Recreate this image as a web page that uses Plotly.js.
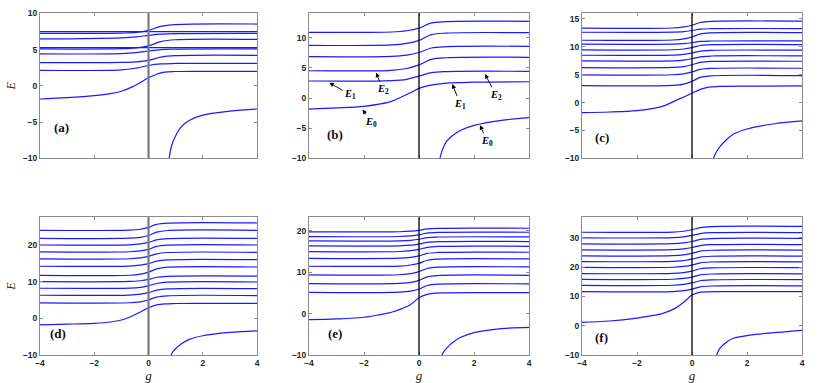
<!DOCTYPE html>
<html>
<head>
<meta charset="utf-8">
<script src="https://cdn.plot.ly/plotly-3.0.1.min.js"></script>
<style>
  html, body { margin: 0; padding: 0; background: #fff; }
  #chart { width: 830px; height: 383px; }
</style>
</head>
<body>
<div id="chart"></div>
<script>
// sample positions in g
const gWide = [-4, -1, -0.45, 0, 0.45, 1, 4];
const gNarrow = [-4, -0.7, -0.3, 0, 0.3, 0.7, 4];
const gLow = [-4, -3, -2, -1.4, -1, -0.6, -0.3, 0, 0.3, 0.6, 1, 2, 4];

// (a)
const levelsA = [
    [2.14, 2.2, 2.45, 2.8, 3.02, 3.08, 3.1],
    [3.19, 3.22, 3.3, 3.5, 3.95, 4.15, 4.2],
    [4.39, 4.44, 4.57, 4.8, 5.0, 5.06, 5.08],
    [5.08, 5.12, 5.24, 5.5, 6.1, 6.35, 6.4],
    [6.46, 6.62, 6.75, 6.95, 7.12, 7.2, 7.24],
    [7.24, 7.27, 7.36, 7.65, 8.2, 8.45, 8.52]
];
const flatA = [5.26, 7.46];
const lowA = [-1.82, -1.64, -1.36, -1.08, -0.75, -0.15, 0.45, 1.1, 1.6, 1.88, 1.97, 2.0, 2.0];
const gBoundA = [0.76, 0.85, 1.0, 1.2, 1.5, 2.0, 3.0, 4.0];
const boundA = [-10, -8.3, -6.9, -5.7, -4.8, -4.05, -3.5, -3.2];

// (b)
const levelsB = [
    [2.82, 2.88, 3.1, 3.64, 4.2, 4.38, 4.42],
    [4.52, 4.6, 4.9, 5.5, 6.4, 6.68, 6.75],
    [6.85, 6.9, 7.1, 7.55, 8.3, 8.52, 8.57],
    [8.74, 8.8, 9.05, 9.55, 10.5, 10.77, 10.83],
    [10.9, 10.95, 11.15, 11.6, 12.45, 12.67, 12.72]
];
const lowB = [-1.83, -1.65, -1.38, -0.98, -0.55, 0.25, 0.9, 1.6, 2.0, 2.25, 2.48, 2.62, 2.7];
const gBoundB = [0.76, 0.85, 1.0, 1.2, 1.5, 2.0, 3.0, 4.0];
const boundB = [-10, -8.6, -7.2, -6.3, -5.4, -4.55, -3.7, -3.25];

// (c)
const levelsC = [
    [3.03, 3.08, 3.3, 3.8, 4.5, 4.78, 4.82],
    [4.95, 4.98, 5.15, 5.5, 5.95, 6.12, 6.15],
    [6.26, 6.29, 6.45, 6.78, 7.2, 7.37, 7.4],
    [7.46, 7.48, 7.6, 7.85, 8.2, 8.34, 8.36],
    [8.48, 8.5, 8.62, 8.88, 9.22, 9.36, 9.38],
    [9.44, 9.46, 9.6, 9.85, 10.22, 10.37, 10.39],
    [10.46, 10.48, 10.56, 10.72, 10.95, 11.03, 11.05],
    [11.17, 11.21, 11.4, 11.75, 12.3, 12.5, 12.54],
    [12.6, 12.62, 12.7, 12.9, 13.15, 13.24, 13.26],
    [13.33, 13.36, 13.55, 13.85, 14.35, 14.55, 14.58]
];
const lowC = [-1.82, -1.7, -1.45, -1.05, -0.55, 0.35, 1.0, 1.66, 2.35, 2.75, 2.88, 2.95, 2.97];
const gBoundC = [0.78, 0.87, 1.0, 1.2, 1.5, 2.0, 3.0, 4.0];
const boundC = [-10, -9.0, -8.0, -6.9, -5.7, -4.75, -3.8, -3.3];

// (d)
const levelsD = [
    [4.2, 4.25, 4.5, 5.0, 5.8, 6.15, 6.2],
    [6.3, 6.35, 6.6, 7.0, 7.7, 8.05, 8.1],
    [8.2, 8.25, 8.45, 8.9, 9.5, 9.85, 9.9],
    [10.0, 10.05, 10.25, 10.6, 11.2, 11.45, 11.5],
    [11.7, 11.75, 12.05, 12.6, 13.5, 13.95, 14.0],
    [14.2, 14.25, 14.5, 14.9, 15.6, 15.95, 16.0],
    [16.2, 16.25, 16.5, 16.9, 17.6, 17.95, 18.0],
    [18.1, 18.15, 18.4, 18.8, 19.6, 19.95, 20.0],
    [20.0, 20.05, 20.3, 20.7, 21.4, 21.75, 21.8],
    [21.8, 21.85, 22.1, 22.6, 23.5, 23.95, 24.0],
    [24.0, 24.05, 24.3, 24.8, 25.6, 25.95, 26.0]
];
const lowD = [-1.8, -1.6, -1.35, -1.0, -0.45, 0.65, 1.7, 2.9, 3.65, 3.95, 4.05, 4.1, 4.1];
const gBoundD = [0.83, 0.92, 1.04, 1.2, 1.5, 2.0, 3.0, 4.0];
const boundD = [-10, -8.9, -8.0, -7.0, -5.75, -4.75, -3.85, -3.4];

// (e)
const levelsE = [
    [5.1, 5.15, 5.4, 5.9, 6.75, 7.08, 7.13],
    [7.2, 7.25, 7.5, 8.0, 8.85, 9.17, 9.22],
    [9.3, 9.35, 9.6, 10.1, 10.85, 11.18, 11.23],
    [11.4, 11.45, 11.7, 12.1, 12.85, 13.12, 13.16],
    [13.3, 13.34, 13.55, 13.9, 14.5, 14.73, 14.77],
    [14.93, 14.96, 15.15, 15.45, 15.95, 16.17, 16.2],
    [16.3, 16.33, 16.48, 16.75, 17.15, 17.32, 17.35],
    [17.5, 17.52, 17.65, 17.9, 18.3, 18.45, 18.47],
    [18.55, 18.57, 18.72, 18.98, 19.4, 19.57, 19.6],
    [19.7, 19.72, 19.85, 20.05, 20.4, 20.54, 20.56]
];
const lowE = [-1.48, -1.3, -0.9, -0.25, 0.3, 1.25, 2.2, 3.8, 4.6, 4.92, 5.0, 5.03, 5.04];
const gBoundE = [0.83, 0.92, 1.0, 1.2, 1.5, 2.0, 3.0, 4.0];
const boundE = [-10, -9.0, -8.4, -7.1, -5.8, -4.6, -3.65, -3.33];

// (f)
const levelsF = [
    [11.6, 11.65, 11.95, 12.5, 13.25, 13.55, 13.6],
    [13.75, 13.8, 14.1, 14.6, 15.35, 15.65, 15.7],
    [15.8, 15.85, 16.15, 16.6, 17.35, 17.65, 17.7],
    [17.8, 17.85, 18.15, 18.65, 19.45, 19.75, 19.8],
    [19.9, 19.95, 20.25, 20.7, 21.45, 21.75, 21.8],
    [21.9, 21.95, 22.25, 22.7, 23.4, 23.7, 23.75],
    [23.86, 23.9, 24.2, 24.7, 25.45, 25.75, 25.8],
    [25.9, 25.95, 26.25, 26.7, 27.35, 27.65, 27.7],
    [27.95, 28.0, 28.3, 28.75, 29.45, 29.75, 29.8],
    [30.0, 30.05, 30.35, 30.8, 31.45, 31.75, 31.8],
    [31.9, 31.95, 32.25, 32.75, 33.5, 33.85, 33.9]
];
const lowF = [1.14, 1.6, 2.6, 3.5, 4.4, 6.0, 8.0, 10.45, 11.45, 11.58, 11.6, 11.6, 11.6];
const gBoundF = [0.9, 1.0, 1.13, 1.3, 1.5, 2.1, 3.1, 4.0];
const boundF = [-10, -7.9, -6.6, -5.3, -4.3, -3.2, -2.3, -1.6];

const panelLabels = ['(a)', '(b)', '(c)', '(d)', '(e)', '(f)'];

// --- layout geometry (pixels of the 830x383 figure)
const W = 830, H = 383;
const colsPx = [[40, 257], [309, 529], [582, 802]];
const rowsPx = [[13.3, 158.3], [217.3, 355]];
function xDom(c) { return [colsPx[c][0] / W, colsPx[c][1] / W]; }
function yDom(r) { return [1 - rowsPx[r][1] / H, 1 - rowsPx[r][0] / H]; }

const panels = [
    { gUp: gWide,   levels: levelsA, flat: flatA, low: lowA, gBound: gBoundA, bound: boundA, yRange: [-10, 10],    dy: 5,  col: 0, row: 0, zc: '#7a7a7a', zw: 2.2, lab: [0.097, 0.21] },
    { gUp: gWide,   levels: levelsB, flat: [],    low: lowB, gBound: gBoundB, bound: boundB, yRange: [-10, 14.05], dy: 5,  col: 1, row: 0, zc: '#000',    zw: 1.3, lab: [0.116, 0.164] },
    { gUp: gNarrow, levels: levelsC, flat: [],    low: lowC, gBound: gBoundC, bound: boundC, yRange: [-10, 16],    dy: 5,  col: 2, row: 0, zc: '#000',    zw: 1.3, lab: [0.091, 0.143] },
    { gUp: gNarrow, levels: levelsD, flat: [],    low: lowD, gBound: gBoundD, bound: boundD, yRange: [-10, 27.55], dy: 10, col: 0, row: 1, zc: '#7a7a7a', zw: 2.2, lab: [0.085, 0.156] },
    { gUp: gNarrow, levels: levelsE, flat: [],    low: lowE, gBound: gBoundE, bound: boundE, yRange: [-10, 23.2],  dy: 10, col: 1, row: 1, zc: '#000',    zw: 1.3, lab: [0.118, 0.156] },
    { gUp: gNarrow, levels: levelsF, flat: [],    low: lowF, gBound: gBoundF, bound: boundF, yRange: [-10, 37],    dy: 10, col: 2, row: 1, zc: '#000',    zw: 1.3, lab: [0.089, 0.13] }
];

const frameColor = '#8c8c8c';
const tickFont = { family: 'Liberation Sans, Arial, sans-serif', size: 8.5, weight: 'bold', color: '#262626' };
const serif = 'Liberation Serif, Times New Roman, serif';

var data = [];
var layout = {
    width: W, height: H,
    margin: { l: 0, r: 0, t: 0, b: 0 },
    paper_bgcolor: '#fff', plot_bgcolor: '#fff',
    showlegend: false,
    shapes: [],
    annotations: []
};

panels.forEach((p, k) => {
    const n = k + 1;
    const xa = n == 1 ? 'x' : 'x' + n;
    const ya = n == 1 ? 'y' : 'y' + n;

    function line(xs, ys) {
        data.push({
            type: 'scatter', mode: 'lines', x: xs, y: ys, xaxis: xa, yaxis: ya,
            line: { color: '#1a1aff', width: 1.2, shape: 'spline', smoothing: 1 },
            hoverinfo: 'skip'
        });
    }

    line(gLow, p.low);
    p.levels.forEach((lv) => line(p.gUp, lv));
    p.flat.forEach((v) => line([-4, 4], [v, v]));
    line(p.gBound, p.bound);

    var xax = {
        domain: xDom(p.col), anchor: ya,
        range: [-4, 4], tick0: -4, dtick: 2,
        showline: true, linecolor: frameColor, linewidth: 1, mirror: 'ticks',
        ticks: 'inside', ticklen: 3, tickcolor: frameColor, tickwidth: 1,
        showgrid: false, zeroline: false,
        showticklabels: p.row == 1, tickfont: tickFont
    };
    if (p.row == 1) {
        xax.title = { text: '<i>g</i>', font: { family: serif, size: 13, color: '#222' }, standoff: 2 };
    }
    var yax = {
        domain: yDom(p.row), anchor: xa,
        range: p.yRange, tick0: -10, dtick: p.dy,
        showline: true, linecolor: frameColor, linewidth: 1, mirror: 'ticks',
        ticks: 'inside', ticklen: 3, tickcolor: frameColor, tickwidth: 1,
        showgrid: false, zeroline: false,
        tickfont: tickFont
    };
    if (p.col == 0) {
        yax.title = { text: '<i>E</i>', font: { family: serif, size: 12, color: '#222' }, standoff: 4 };
    }
    layout['xaxis' + (n == 1 ? '' : n)] = xax;
    layout['yaxis' + (n == 1 ? '' : n)] = yax;

    // vertical line at g = 0
    layout.shapes.push({
        type: 'line', xref: xa, yref: ya + ' domain',
        x0: 0, x1: 0, y0: 0, y1: 1,
        line: { color: p.zc, width: p.zw }
    });

    layout.annotations.push({
        xref: xa + ' domain', yref: ya + ' domain',
        x: p.lab[0], y: p.lab[1], xanchor: 'center', yanchor: 'middle',
        text: panelLabels[k], showarrow: false,
        font: { family: serif, size: 13, weight: 'bold', color: '#111' }
    });
});

// arrows of panel (b)
[
    { x: -3.26, y: 2.53,  i: 1, ax: 21, ay: 12 },
    { x: -1.56, y: 4.19,  i: 2, ax: 7,  ay: 17 },
    { x: -2.05, y: -1.9,  i: 0, ax: 8,  ay: 13 },
    { x: 1.21,  y: 2.31,  i: 1, ax: 8,  ay: 20 },
    { x: 2.4,   y: 3.97,  i: 2, ax: 11, ay: 21 },
    { x: 2.22,  y: -4.5,  i: 0, ax: 7,  ay: 16 }
].forEach((a) => {
    layout.annotations.push({
        xref: 'x2', yref: 'y2', x: a.x, y: a.y, ax: a.ax, ay: a.ay,
        text: '<i>E</i><sub>' + a.i + '</sub>', showarrow: true,
        arrowhead: 2, arrowsize: 1, arrowwidth: 0.9, arrowcolor: '#000', standoff: 0,
        font: { family: serif, size: 10.5, weight: 'bold', color: '#000' }
    });
});

var config = { staticPlot: true };

Plotly.newPlot('chart', data, layout, config);
</script>
</body>
</html>
